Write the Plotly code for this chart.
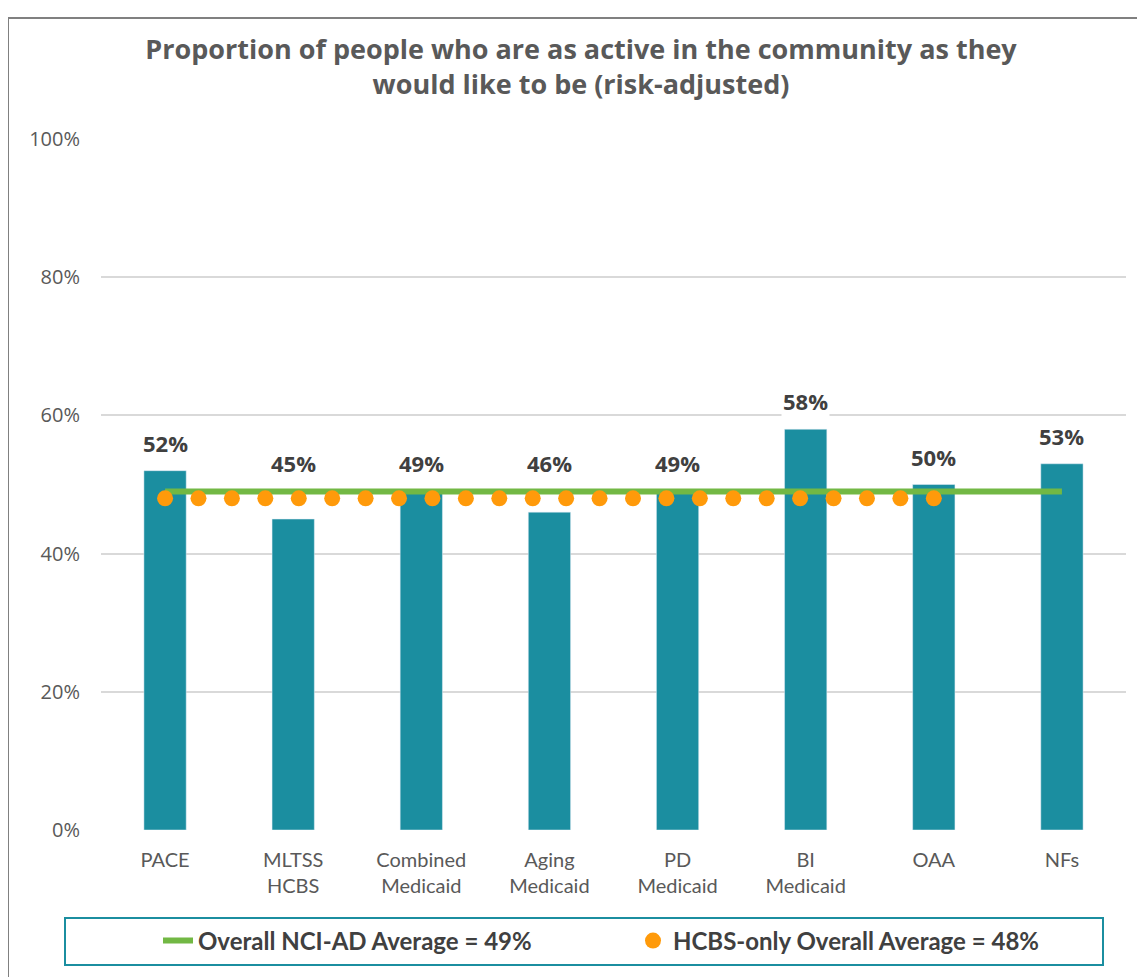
import numpy as np
import plotly.graph_objects as go

categories = ["PACE", "MLTSS<br>HCBS", "Combined<br>Medicaid", "Aging<br>Medicaid",
              "PD<br>Medicaid", "BI<br>Medicaid", "OAA", "NFs"]
values = [0.52, 0.45, 0.49, 0.46, 0.49, 0.58, 0.50, 0.53]
value_labels = ["52%", "45%", "49%", "46%", "49%", "58%", "50%", "53%"]
overall_avg = 0.49
overall_label = "Overall NCI-AD Average = 49%"
hcbs_avg = 0.48
hcbs_label = "HCBS-only Overall Average = 48%"
hcbs_last_category = 6  # OAA
y_ticks = [0, 0.2, 0.4, 0.6, 0.8, 1.0]

BAR = "#1B8EA0"
GREEN = "#72B844"
ORANGE = "#FF9A0A"

W, H = 1137, 969  # page body has an 8px margin
L, R, T, B = 93, 19, 131, 147
PW, PH = W - L - R, H - T - B


def px_x(px):
    return (px - L) / PW


def px_y(py):
    return (H - B - py) / PH


x = list(range(len(categories)))
fig = go.Figure()
fig.add_trace(go.Bar(x=x, y=values, marker_color=BAR, width=0.33, showlegend=False,
                     hoverinfo="skip"))
fig.add_trace(go.Scatter(x=[x[0], x[-1]], y=[overall_avg, overall_avg], mode="lines",
                         line=dict(color=GREEN, width=6), name="<b>" + overall_label + "</b>"))
dots_x = np.linspace(x[0], hcbs_last_category, 24)
fig.add_trace(go.Scatter(x=dots_x, y=[hcbs_avg] * len(dots_x), mode="markers",
                         marker=dict(color=ORANGE, size=16, line=dict(width=0)),
                         name="<b>" + hcbs_label + "</b>"))

for xi, v, lab in zip(x, values, value_labels):
    fig.add_annotation(x=xi, y=max(v, overall_avg), text="<b>" + lab + "</b>",
                       showarrow=False, yshift=28, yanchor="middle",
                       font=dict(family="Open Sans", size=22, color="#404040"),
                       bgcolor="white")

fig.update_layout(
    width=W, height=H,
    margin=dict(l=L, r=R, t=T, b=B),
    paper_bgcolor="white", plot_bgcolor="white",
    title=dict(text="<b>Proportion of people who are as active in the community as they<br>would like to be (risk-adjusted)</b>",
               x=(581 - 8) / W, xanchor="center", y=1 - 51 / H, yanchor="top",
               font=dict(family="Open Sans", size=27, color="#595959")),
    xaxis=dict(range=[-0.5, 7.5], tickmode="array", tickvals=x, ticktext=categories,
               showgrid=False, zeroline=False, showline=False, ticks="",
               ticklabelstandoff=16,
               tickfont=dict(family="Lato", size=20, color="#595959")),
    yaxis=dict(range=[0, 1], tickmode="array", tickvals=y_ticks, tickformat=".0%",
               showgrid=True, gridcolor="#D9D9D9", gridwidth=1.5, zeroline=False,
               ticklabelstandoff=20,
               tickfont=dict(family="Open Sans", size=20, color="#595959")),
    legend=dict(orientation="h", x=px_x(150), xanchor="left", y=px_y(933), yanchor="middle",
                font=dict(family="Lato", size=24, color="#404040"),
                entrywidth=430, bgcolor="rgba(0,0,0,0)"),
    shapes=[
        dict(type="rect", xref="paper", yref="paper", x0=px_x(57), x1=px_x(1095),
             y0=px_y(910), y1=px_y(957), line=dict(color=BAR, width=2)),
        dict(type="line", xref="paper", yref="paper", x0=px_x(0), x1=px_x(W + 10),
             y0=px_y(10), y1=px_y(10), line=dict(color="#808080", width=2)),
        dict(type="line", xref="paper", yref="paper", x0=px_x(0), x1=px_x(0),
             y0=px_y(10), y1=px_y(H + 10), line=dict(color="#808080", width=2)),
    ],
)
fig.write_html("out.html")
